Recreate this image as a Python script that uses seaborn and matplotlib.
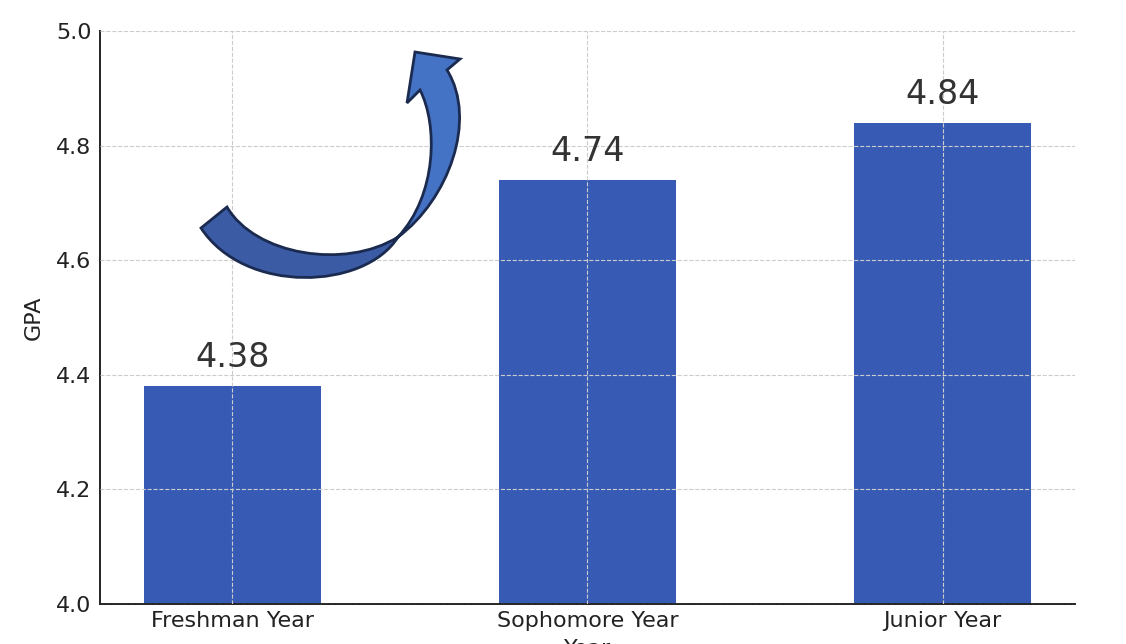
import matplotlib
matplotlib.use("Agg")
import matplotlib.pyplot as plt
from matplotlib.path import Path
from matplotlib.patches import PathPatch
import seaborn as sns
import pandas as pd

categories = ["Freshman Year", "Sophomore Year", "Junior Year"]
gpa = [4.38, 4.74, 4.84]
yticks = [4.0, 4.2, 4.4, 4.6, 4.8, 5.0]

sns.set_style("white")
plt.rcParams["font.family"] = ["DejaVu Sans"]

W, H = 1126, 644
fig = plt.figure(figsize=(W / 100, H / 100), dpi=100)
ax = fig.add_axes([100 / W, 1 - 604 / H, 975 / W, 573 / H])

df = pd.DataFrame({"Year": categories, "GPA": gpa})
sns.barplot(data=df, x="Year", y="GPA", color="#375BB5", saturation=1,
            width=0.5, linewidth=0, ax=ax)

ax.set_ylim(4.0, 5.0)
ax.set_xlim(-0.373, 2.373)
ax.set_yticks(yticks)
ax.set_yticklabels([f"{t:.1f}" for t in yticks])
ax.set_axisbelow(False)
ax.grid(True, linestyle="--", color="#cccccc", linewidth=0.8)

for i, v in enumerate(gpa):
    ax.text(i, v + 0.021, f"{v:.2f}", ha="center", va="bottom",
            fontsize=24, color="#333333")

for s in ["top", "right"]:
    ax.spines[s].set_visible(False)
for s in ["left", "bottom"]:
    ax.spines[s].set_color("#222222")
    ax.spines[s].set_linewidth(1.4)

ax.tick_params(axis="both", labelsize=16, colors="#222222", direction="in",
               length=4, width=1)
ax.tick_params(axis="x", pad=5)
ax.tick_params(axis="y", pad=6)
ax.set_ylabel("GPA", fontsize=16, color="#222222", labelpad=9)
ax.set_xlabel("Year", fontsize=16, color="#222222", labelpad=6)


def px(pts):
    return [(x / W, 1 - y / H) for x, y in pts]


# decorative curved arrow (pixel coordinates, y downward)
tail_pts = [(227, 207), (255, 255), (345, 270), (398, 237),
            (365, 290), (245, 295), (201, 228), (227, 207)]
tail_codes = [Path.MOVETO, Path.CURVE4, Path.CURVE4, Path.CURVE4,
              Path.CURVE4, Path.CURVE4, Path.CURVE4, Path.CLOSEPOLY]
head_pts = [(398, 237), (448, 200), (478, 120), (447, 70),
            (460, 59), (415, 52), (407, 103), (420, 90),
            (438, 125), (437, 195), (398, 237), (398, 237)]
head_codes = [Path.MOVETO, Path.CURVE4, Path.CURVE4, Path.CURVE4,
              Path.LINETO, Path.LINETO, Path.LINETO, Path.LINETO,
              Path.CURVE4, Path.CURVE4, Path.CURVE4, Path.CLOSEPOLY]

for pts, codes, col in [(tail_pts, tail_codes, "#3B5BA5"),
                        (head_pts, head_codes, "#4472C4")]:
    patch = PathPatch(Path(px(pts), codes), transform=fig.transFigure,
                      facecolor=col, edgecolor="#1B2A4F", linewidth=2,
                      joinstyle="miter", zorder=10)
    fig.add_artist(patch)

fig.savefig("out.png", dpi=100)
